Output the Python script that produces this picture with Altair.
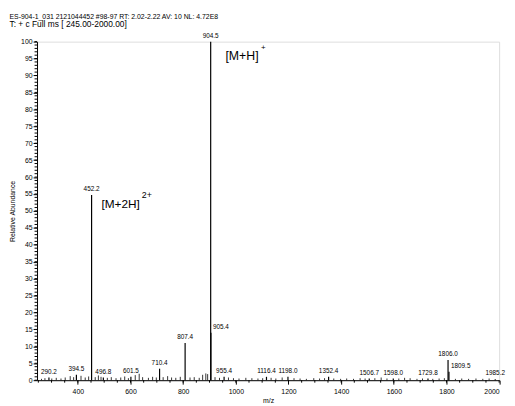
import altair as alt
import pandas as pd

# ---- data ----
PEAK_LABEL = ["290.2", "394.5", "452.2", "496.8", "601.5", "710.4", "807.4", "904.5",
              "905.4", "955.4", "1116.4", "1198.0", "1352.4", "1506.7", "1598.0",
              "1729.8", "1806.0", "1809.5", "1985.2"]
PEAK_MZ = [290.2, 394.5, 452.2, 496.8, 601.5, 710.4, 807.4, 904.5,
           905.4, 955.4, 1116.4, 1198.0, 1352.4, 1506.7, 1598.0,
           1729.8, 1806.0, 1809.5, 1985.2]
PEAK_INT = [0.8, 1.6, 54.7, 0.8, 1.0, 3.4, 11.0, 100.0,
            14.0, 1.0, 1.0, 1.0, 1.0, 0.5, 0.5,
            0.5, 6.0, 2.5, 0.3]
PEAK_SIDE = ["c", "c", "c", "c", "c", "c", "c", "c",
             "r", "c", "c", "c", "c", "c", "c",
             "c", "c", "r", "c"]

NOISE_MZ = [262, 275, 301, 318, 336, 352, 371, 384, 412, 428, 441, 466, 478, 488,
            512, 527, 545, 563, 578, 592, 618, 633, 646, 668, 684, 698, 724, 741,
            756, 772, 789, 826, 842, 861, 874, 886, 893, 921, 938, 972, 991, 1012,
            1038, 1061, 1084, 1102, 1134, 1152, 1176, 1221, 1244, 1268, 1296, 1318,
            1337, 1372, 1398, 1421, 1447, 1472, 1491, 1528, 1552, 1574, 1619, 1641,
            1662, 1688, 1709, 1748, 1772, 1792, 1834, 1858, 1884, 1912, 1938, 1962]
NOISE_INT = [0.4, 0.6, 0.5, 0.7, 0.5, 0.8, 1.2, 0.9, 1.3, 0.8, 1.1, 0.9, 1.4, 1.0,
             0.7, 0.9, 0.6, 0.8, 1.1, 0.6, 1.5, 1.9, 0.9, 0.7, 1.0, 0.8, 0.9, 1.2,
             0.8, 0.7, 1.0, 0.8, 0.9, 0.7, 1.6, 2.0, 1.8, 0.9, 0.7, 0.8, 0.6, 0.5,
             0.7, 0.6, 0.5, 0.6, 0.7, 0.5, 0.8, 0.6, 0.5, 0.4, 0.6, 0.5,
             0.6, 0.5, 0.4, 0.5, 0.4, 0.6, 0.5, 0.6, 0.8, 0.5, 0.5, 0.7,
             0.6, 0.4, 0.5, 0.4, 0.5, 0.6, 0.4, 0.5, 0.4, 0.5, 0.4, 0.5]

ANN_TEXT = ["[M+H]", "[M+2H]"]
ANN_SUP = ["+", "2+"]
ANN_MZ = [904.5, 452.2]

HEADER_1 = "ES-904-1_031 2121044452 #98-97  RT: 2.02-2.22  AV: 10  NL: 4.72E8"
HEADER_2 = "T: + c Full ms [ 245.00-2000.00]"

X_TICKS = [400, 600, 800, 1000, 1200, 1400, 1600, 1800, 2000]
X_MINOR = [v for v in range(250, 2001, 50)]
Y_TICKS = [v for v in range(0, 101, 5)]
Y_MINOR = [v for v in range(0, 101, 1)]

W, H = 469.5, 344
FONT = "Liberation Sans"

peaks = pd.DataFrame({"mz": PEAK_MZ, "intensity": PEAK_INT, "label": PEAK_LABEL, "side": PEAK_SIDE})
noise = pd.DataFrame({"mz": NOISE_MZ, "intensity": NOISE_INT})
int_of = dict(zip(PEAK_MZ, PEAK_INT))
ann = pd.DataFrame({"mz": ANN_MZ, "intensity": [int_of[m] for m in ANN_MZ],
                    "label": ANN_TEXT, "sup": ANN_SUP})
xminor = pd.DataFrame({"mz": X_MINOR})
yminor = pd.DataFrame({"intensity": Y_MINOR})

xs = alt.Scale(domain=[245, 2000], nice=False, zero=False)
ys = alt.Scale(domain=[0, 100], nice=False, zero=True)

x_axis = alt.Axis(values=X_TICKS, format="d", tickSize=4, labelFontSize=7, labelPadding=4,
                  titleFontSize=7, titleFontWeight="normal", titlePadding=2, grid=False,
                  labelFont=FONT, titleFont=FONT, domainColor="black", tickColor="black",
                  labelColor="black", titleColor="black", labelOverlap=False)
y_axis = alt.Axis(values=Y_TICKS, format="d", tickSize=4, labelFontSize=7, labelPadding=1,
                  titleFontSize=7, titleFontWeight="normal", titlePadding=5, grid=False,
                  labelFont=FONT, titleFont=FONT, domainColor="black", tickColor="black",
                  labelColor="black", titleColor="black", labelOverlap=False)

X = alt.X("mz:Q", scale=xs, axis=x_axis, title="m/z")
Y = alt.Y("intensity:Q", scale=ys, axis=y_axis, title="Relative Abundance")

noise_rules = alt.Chart(noise).mark_rule(color="black", strokeWidth=0.8).encode(
    x=X, y=Y, y2=alt.datum(0))
peak_rules = alt.Chart(peaks).mark_rule(color="black", strokeWidth=1.2).encode(
    x=X, y=Y, y2=alt.datum(0))

lab_c = alt.Chart(peaks).transform_filter(alt.datum.side == "c").mark_text(
    fontSize=6.5, font=FONT, baseline="alphabetic", align="center", dy=-4, color="black"
).encode(x=X, y=Y, text="label:N")
lab_r = alt.Chart(peaks).transform_filter(alt.datum.side == "r").mark_text(
    fontSize=6.5, font=FONT, baseline="alphabetic", align="left", dx=2, dy=-4, color="black"
).encode(x=X, y=Y, text="label:N")

ann_mh = alt.Chart(ann).transform_filter(alt.datum.label == "[M+H]")
a1 = ann_mh.mark_text(fontSize=12.5, font=FONT, align="left", baseline="middle", dx=15, dy=15,
                      color="black").encode(x=X, y=Y, text="label:N")
a1s = ann_mh.mark_text(fontSize=8, font=FONT, align="left", baseline="middle", dx=51, dy=6,
                       color="black").encode(x=X, y=Y, text="sup:N")
ann_m2h = alt.Chart(ann).transform_filter(alt.datum.label == "[M+2H]")
a2 = ann_m2h.mark_text(fontSize=12, font=FONT, align="left", baseline="middle", dx=10, dy=9,
                       color="black").encode(x=X, y=Y, text="label:N")
a2s = ann_m2h.mark_text(fontSize=9, font=FONT, align="left", baseline="middle", dx=51, dy=0,
                        color="black").encode(x=X, y=Y, text="sup:N")

xmin = alt.Chart(xminor).mark_rule(color="black", strokeWidth=1).encode(
    x=X, y=alt.value(H), y2=alt.value(H + 2.5))
ymin = alt.Chart(yminor).mark_rule(color="black", strokeWidth=1).encode(
    y=Y, x=alt.value(-2.5), x2=alt.value(0))

chart = alt.layer(noise_rules, peak_rules, lab_c, lab_r, a1, a1s, a2, a2s, xmin, ymin).properties(
    width=W, height=H,
    autosize=alt.AutoSizeParams(type="none"),
    padding={"left": 29.5, "top": 31, "right": 8, "bottom": 21},
    title=alt.TitleParams(HEADER_1, subtitle=HEADER_2, anchor="start", frame="group",
                          fontSize=7, font=FONT, fontWeight="normal", color="black",
                          subtitleFontSize=8.5, subtitleFont=FONT, subtitleColor="black",
                          subtitlePadding=1, dx=-28, offset=4, lineHeight=8),
).configure_view(stroke=None).configure(background="white")

chart.save("out.html", embed_options={"renderer": "svg", "actions": False})
